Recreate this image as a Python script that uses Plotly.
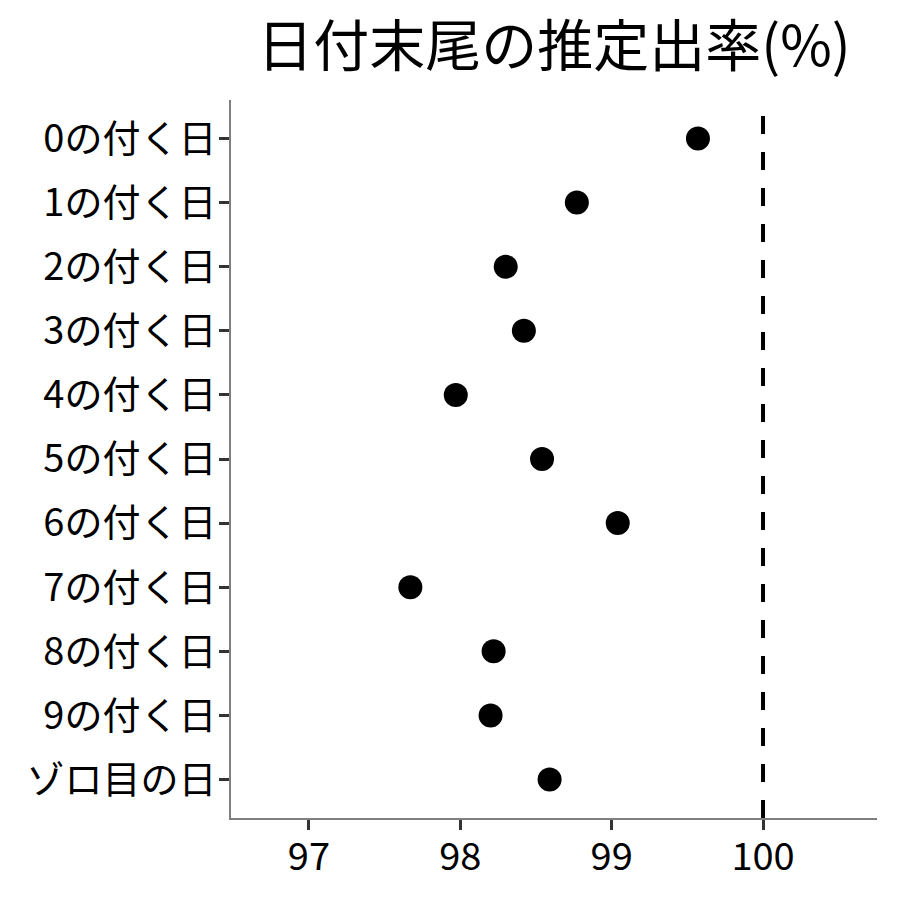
import plotly.graph_objects as go

categories = ["0の付く日", "1の付く日", "2の付く日", "3の付く日", "4の付く日",
              "5の付く日", "6の付く日", "7の付く日", "8の付く日", "9の付く日",
              "ゾロ目の日"]
rates = [99.57, 98.77, 98.30, 98.42, 97.97, 98.54, 99.04, 97.67, 98.22, 98.20, 98.59]
x_ticks = [97, 98, 99, 100]

FONT = "Noto Sans CJK JP"

fig = go.Figure(
    go.Scatter(
        x=rates,
        y=categories,
        mode="markers",
        marker={"size": 24, "color": "black"},
        cliponaxis=False,
    )
)
fig.add_vline(x=100, line={"color": "black", "width": 4, "dash": "18px,18px"})

fig.update_layout(
    width=900,
    height=900,
    margin={"l": 223, "r": 31, "t": 92, "b": 90},
    paper_bgcolor="white",
    plot_bgcolor="white",
    showlegend=False,
    font={"family": FONT, "color": "black", "size": 38},
    title={
        "text": "日付末尾の推定出率(%)",
        "font": {"family": FONT, "size": 56, "color": "black"},
        "x": 0.5,
        "xref": "paper",
        "xanchor": "center",
        "y": 0.957,
        "yanchor": "middle",
    },
    xaxis={
        "range": [96.485, 100.753],
        "tickvals": x_ticks,
        "ticks": "outside",
        "ticklen": 10,
        "tickwidth": 3,
        "tickcolor": "#333333",
        "ticklabelstandoff": -6,
        "showline": True,
        "linecolor": "#7f7f7f",
        "linewidth": 2,
        "showgrid": False,
        "zeroline": False,
        "tickfont": {"size": 38},
    },
    yaxis={
        "categoryorder": "array",
        "categoryarray": categories,
        "autorange": False,
        "range": [10.6, -0.6],
        "ticks": "outside",
        "ticklen": 10,
        "tickwidth": 3,
        "tickcolor": "#333333",
        "ticklabelstandoff": -5,
        "showline": True,
        "linecolor": "#7f7f7f",
        "linewidth": 2,
        "showgrid": False,
        "zeroline": False,
        "tickfont": {"size": 38},
    },
)

fig.write_html("out.html")
